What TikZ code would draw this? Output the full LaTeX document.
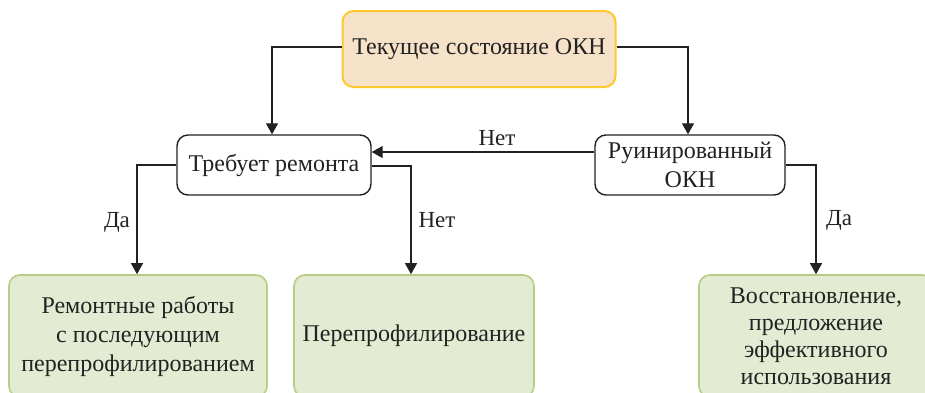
\documentclass[tikz,border=0pt]{standalone}
\usepackage{fontspec}
\setmainfont{Liberation Serif}
\usetikzlibrary{arrows.meta}
\definecolor{topfill}{HTML}{F5E2C9}
\definecolor{topdraw}{HTML}{FFC92E}
\definecolor{grfill}{HTML}{E3EBD3}
\definecolor{grdraw}{HTML}{B7CC85}
\definecolor{ln}{HTML}{222222}
\tikzset{
  box/.style={rectangle, rounded corners=11pt, align=center, inner sep=0pt,
    font=\fontsize{24}{29}\selectfont, text=ln},
  topbox/.style={box, fill=topfill, draw=topdraw, line width=2pt},
  midbox/.style={box, fill=white, draw=ln, line width=1.4pt},
  endbox/.style={box, fill=grfill, draw=grdraw, line width=1.6pt},
  arr/.style={draw=ln, line width=1.3pt, -{Triangle[width=12pt,length=11pt]}},
  lbl/.style={font=\fontsize{23}{27}\selectfont, text=ln, inner sep=0pt}
}
\begin{document}
\begin{tikzpicture}[x=1pt,y=-1pt]
\path[use as bounding box, clip] (0,0) rectangle (925,392);
\fill[white] (0,0) rectangle (925,392);
\node[topbox, minimum width=273pt, minimum height=76pt] (top) at (479,49) {Текущее состояние ОКН};
\node[midbox, minimum width=194pt, minimum height=60pt] (req) at (274,165) {Требует ремонта};
\node[midbox, minimum width=190pt, minimum height=60pt] (ruin) at (690,165) {Руинированный\\ОКН};
\node[endbox, minimum width=258pt, minimum height=122pt] (b1) at (138,336) {Ремонтные работы\\с последующим\\перепрофилированием};
\node[endbox, minimum width=240pt, minimum height=122pt] (b2) at (414,336) {Перепрофилирование};
\node[endbox, minimum width=234pt, minimum height=122pt, font=\fontsize{24}{27}\selectfont] (b3) at (816,336) {Восстановление,\\предложение\\эффективного\\использования};
\draw[arr] ([yshift=2pt]top.west) -| ([xshift=-2pt]req.north);
\draw[arr] ([yshift=2pt]top.east) -| ([xshift=-2pt]ruin.north);
\draw[arr] ([yshift=13pt]ruin.west) -- ([yshift=13pt]req.east);
\draw[arr] (req.west) -| ([xshift=-1pt]b1.north);
\draw[arr] ([yshift=-1pt]req.east) -| ([xshift=-3pt]b2.north);
\draw[arr] (ruin.east) -| (b3.north);
\node[lbl] (l1) at (497,138) {Нет};
\node[lbl] (l2) at (117,222) {Да};
\node[lbl] (l3) at (437,220) {Нет};
\node[lbl] (l4) at (839,220) {Да};
\end{tikzpicture}
\end{document}
